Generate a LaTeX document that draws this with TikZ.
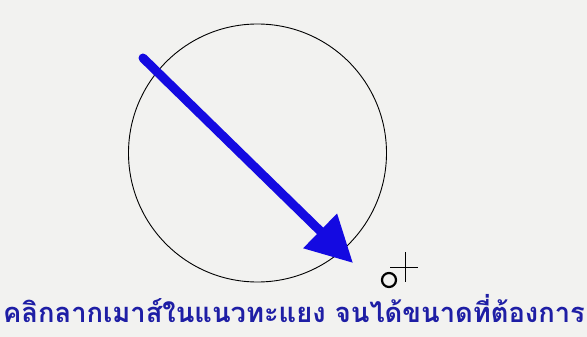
\documentclass[tikz,border=0pt]{standalone}
\usepackage{fontspec}
\newfontfamily\thaifont[Script=Thai]{Loma}
\usetikzlibrary{arrows.meta, positioning}
\definecolor{bgcol}{RGB}{242,242,240}
\definecolor{arrowblue}{RGB}{20,10,225}
\definecolor{textblue}{RGB}{30,30,165}
\tikzset{
  outline/.style={draw=black, line width=0.9pt},
  dragarrow/.style={draw=arrowblue, line width=9pt, line cap=round,
    -{Triangle[length=46pt, width=46pt]}},
  caption/.style={text=textblue, font=\thaifont\bfseries\fontsize{27.3}{31}\selectfont, inner sep=0pt}
}
\begin{document}
\begin{tikzpicture}[x=1pt, y=-1pt]
            % Background
            \fill[bgcol] (0,0) rectangle (587,337);
            \useasboundingbox (0,0) rectangle (587,337);

            % Circle
            \node[outline, circle, minimum size=258pt, inner sep=0pt] (ring) at (257.5,153) {};

            % Drag arrow
            \coordinate (start) at (143,58);
            \coordinate (tip) at (353,263);
            \draw[dragarrow] (start) -- (tip);

            % Cursor
            \node[draw=black, line width=2.2pt, circle, minimum size=14pt, inner sep=0pt] (pen) at (389,280) {};
            \coordinate (crossT) at (405,252);
            \coordinate (crossB) at (405,282);
            \coordinate (crossL) at (390,267);
            \coordinate (crossR) at (418,267);
            \draw[line width=1pt] (crossT) -- (crossB);
            \draw[line width=1pt] (crossL) -- (crossR);

            % Caption
            \node[caption] (hint) at (294,309) {คลิกลากเมาส์ในแนวทะแยง จนได้ขนาดที่ต้องการ};
\end{tikzpicture}
\end{document}
